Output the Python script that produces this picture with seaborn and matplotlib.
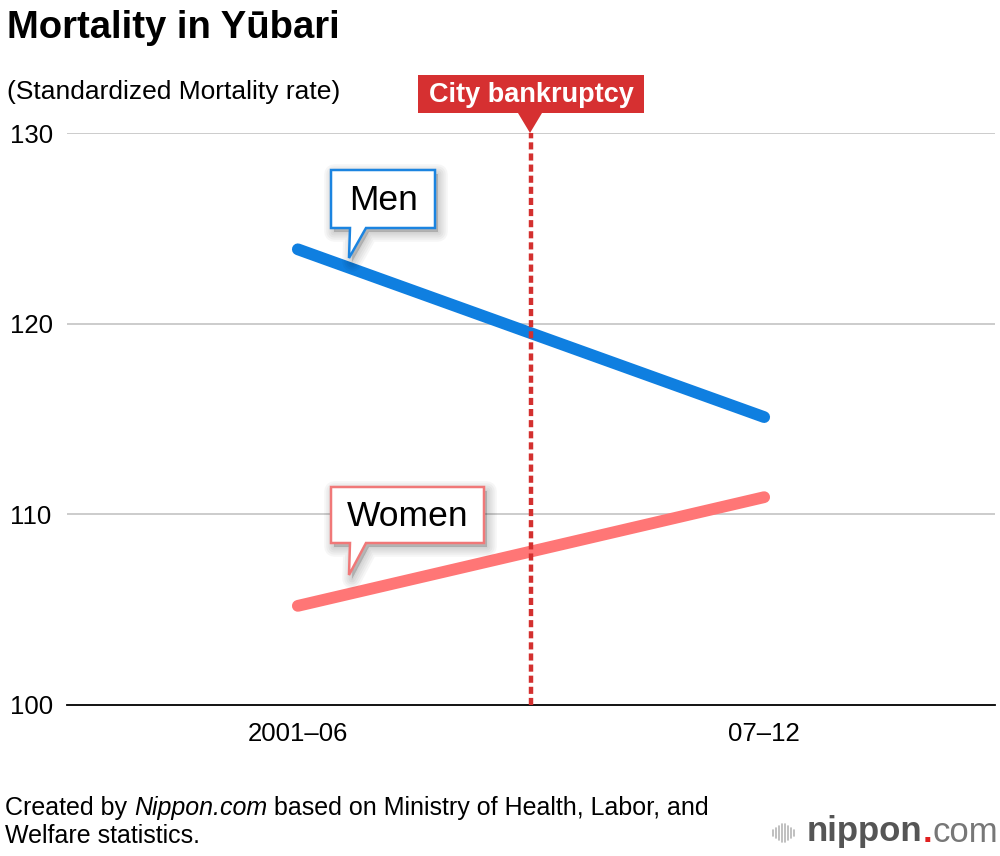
import matplotlib
matplotlib.use("Agg")
import matplotlib.pyplot as plt
import seaborn as sns
import pandas as pd
from matplotlib.patches import Polygon

periods = ["2001–06", "07–12"]
men = [123.9, 115.1]
women = [105.2, 110.9]
yticks = [100, 110, 120, 130]
bankruptcy_x = 0.5

sns.set_theme(style="white")
plt.rcParams['font.family'] = ['Liberation Sans', 'DejaVu Sans']
plt.rcParams['text.color'] = 'black'
plt.rcParams['xtick.color'] = 'black'
plt.rcParams['ytick.color'] = 'black'

W, H = 1000, 856
fig = plt.figure(figsize=(W/100, H/100), dpi=100)
ax = fig.add_axes([67/W, 1-705/H, (995-67)/W, (705-133)/H])

df = pd.DataFrame({"x": [0, 1, 0, 1],
                   "value": men + women,
                   "series": ["Men", "Men", "Women", "Women"]})
pal = {"Men": "#0f7fe0", "Women": "#ff7676"}
sns.lineplot(data=df, x="x", y="value", hue="series", palette=pal, ax=ax,
             linewidth=8.5, legend=False, solid_capstyle="round", zorder=3)

ax.set_xlim(-0.495, 1.495)
ax.set_ylim(100, 130)
ax.set_yticks(yticks)
ax.set_xticks([0, 1])
ax.set_xticklabels(periods, fontsize=18.5)
ax.set_yticklabels([str(t) for t in yticks], fontsize=18.5, ha="left")
ax.tick_params(axis="y", length=0, pad=41)
ax.tick_params(axis="x", length=0, pad=12)
ax.set_xlabel("")
ax.set_ylabel("")
for s in ["left", "right", "top"]:
    ax.spines[s].set_visible(False)
ax.spines["bottom"].set_color("black")
ax.spines["bottom"].set_linewidth(1.3)
ax.spines["bottom"].set_zorder(4)
for t in yticks[1:]:
    ax.axhline(t, color="#c8c8c8", lw=1.3, zorder=1)
ax.grid(False)
ax.patch.set_alpha(0)

# bankruptcy line
ax.axvline(bankruptcy_x, ymin=0, ymax=1, color="#d3302f", lw=3.2,
           linestyle=(0, (1.6, 0.9)), zorder=5)

def P(px, py):
    return (px / W, 1 - py / H)

def poly(pts, **kw):
    p = Polygon([P(*q) for q in pts], closed=True, transform=fig.transFigure, **kw)
    fig.add_artist(p)
    return p

# bankruptcy label
poly([(418, 75), (644, 75), (644, 113), (542, 113), (530, 133), (518, 113), (418, 113)],
     facecolor="#d63031", edgecolor="none", zorder=6)
fig.text(*P(531, 95), "City bankruptcy", color="white", fontsize=19.5, fontweight="bold",
         ha="center", va="center", zorder=7)

def callout(x0, y0, x1, y1, tailx0, tailx1, tipx, tipy, color, label):
    pts = [(x0, y0), (x1, y0), (x1, y1), (tailx1, y1), (tipx, tipy), (tailx0, y1), (x0, y1)]
    # soft shadow
    for lw in [14, 11, 8, 5, 2]:
        sp = [(x + 3, y + 4) for x, y in pts]
        p = poly(sp, facecolor="black", edgecolor="black", linewidth=lw, alpha=0.035, zorder=6)
        p.set_joinstyle("round")
    poly(pts, facecolor="white", edgecolor=color, linewidth=1.8, zorder=7)
    fig.text(*P((x0 + x1) / 2, (y0 + y1) / 2 + 1), label, fontsize=25.5, ha="center",
             va="center", color="black", zorder=8)

callout(331, 170, 435, 228, 350, 366, 349, 258, "#1b84e0", "Men")
callout(331, 487, 484, 543, 350, 366, 349, 575, "#f07878", "Women")

# titles
fig.text(*P(7, 28), "Mortality in Yūbari", fontsize=27.5, fontweight="bold", ha="left", va="center")
fig.text(*P(7, 92), "(Standardized Mortality rate)", fontsize=19, ha="left", va="center")

# footer with italic part
fig.canvas.draw()
r = fig.canvas.get_renderer()
fs = 18
t1 = fig.text(*P(5, 808), "Created by ", fontsize=fs, ha="left", va="center")
bb = t1.get_window_extent(r)
t2 = fig.text(bb.x1 / W, 1 - 808 / H, "Nippon.com", fontsize=fs, style="italic", ha="left", va="center")
bb2 = t2.get_window_extent(r)
fig.text(bb2.x1 / W, 1 - 808 / H, " based on Ministry of Health, Labor, and", fontsize=fs,
         ha="left", va="center")
fig.text(*P(5, 836), "Welfare statistics.", fontsize=fs, ha="left", va="center")

# logo
heights = [6, 10, 14, 18, 18, 14, 10, 6]
for i, h in enumerate(heights):
    x = 773 + i * 3.0
    fig.add_artist(plt.Line2D([x / W, x / W], [1 - (833 + h / 2) / H, 1 - (833 - h / 2) / H],
                              transform=fig.transFigure, color="#b5b5b5", lw=1.2))
lt = fig.text(*P(807, 832), "nippon", fontsize=25, fontweight="bold", color="#555555",
              ha="left", va="center")
lb = lt.get_window_extent(r)
d = fig.text(lb.x1 / W, 1 - 832 / H, ".", fontsize=25, fontweight="bold", color="#e02020",
             ha="left", va="center")
db = d.get_window_extent(r)
fig.text(db.x1 / W, 1 - 832 / H, "com", fontsize=25, color="#777777", ha="left", va="center")

fig.savefig("out.png", dpi=100)
